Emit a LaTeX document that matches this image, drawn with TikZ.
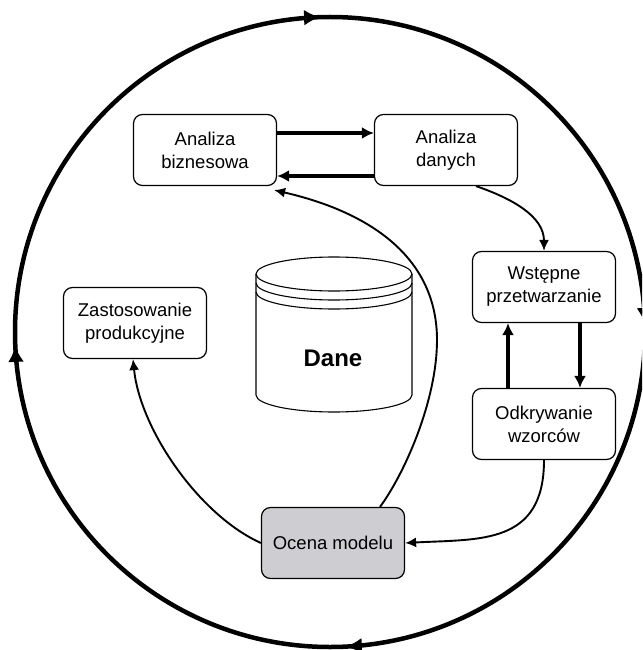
\documentclass[tikz,border=0pt]{standalone}
\usepackage{fontspec}
\setmainfont{Liberation Sans}
\usetikzlibrary{arrows.meta,decorations.markings}
\definecolor{ocenagray}{RGB}{205,205,210}
\tikzset{
  etap/.style={draw, line width=1.2pt, rounded corners=9pt, minimum width=143pt,
    minimum height=71pt, align=center, inner sep=2pt,
    font=\fontsize{18.5}{23}\selectfont},
  gruba/.style={line width=3.2pt, -{Latex[length=12pt,width=12pt]}},
  cienka/.style={line width=1.9pt, -{Latex[length=11pt,width=10pt]}},
  cyklgrot/.style={decoration={markings,
    mark=at position 0.004 with {\arrowreversed{Latex[length=16pt,width=16pt]}},
    mark=at position 0.255 with {\arrowreversed{Latex[length=16pt,width=16pt]}},
    mark=at position 0.507 with {\arrowreversed{Latex[length=16pt,width=16pt]}},
    mark=at position 0.758 with {\arrowreversed{Latex[length=16pt,width=16pt]}}},
    postaction={decorate}},
}
\begin{document}
\begin{tikzpicture}[x=1pt,y=-1pt]
\useasboundingbox (0,0) rectangle (642,650);
\clip (0,0) rectangle (642,650);
% cykl
\draw [line width=4.5pt, cyklgrot] (330,332) circle [radius=315pt];
% baza danych
\draw [line width=1.1pt] (256,274) -- (256,395)
  arc [start angle=180, end angle=360, x radius=78pt, y radius=17pt] -- (412,274);
\draw [line width=1.1pt] (334,274) ellipse [x radius=78pt, y radius=17pt];
\draw [line width=1.1pt] (256,283) arc [start angle=180, end angle=360, x radius=78pt, y radius=17pt];
\draw [line width=1.1pt] (256,292) arc [start angle=180, end angle=360, x radius=78pt, y radius=17pt];
\node (dane) at (333,358) {\fontsize{24}{24}\selectfont\bfseries Dane};
% etapy
\node [etap] (ab) at (205,150) {Analiza\\biznesowa};
\node [etap] (ad) at (446,150) {Analiza\\danych};
\node [etap] (wp) at (544,287) {Wstępne\\przetwarzanie};
\node [etap] (ow) at (544,424) {Odkrywanie\\wzorców};
\node [etap, fill=ocenagray] (om) at (333,543) {Ocena modelu};
\node [etap] (zp) at (135,323) {Zastosowanie\\produkcyjne};
\coordinate (bend) at (437,340);
% przejscia
\draw [gruba] ([yshift=17pt]ab.east) -- ([yshift=17pt]ad.west);
\draw [gruba] ([yshift=-26pt]ad.west) -- ([yshift=-26pt]ab.east);
\draw [gruba] ([xshift=36pt]wp.south) -- ([xshift=36pt]ow.north);
\draw [gruba] ([xshift=-36pt]ow.north) -- ([xshift=-36pt]wp.south);
\draw [cienka] ([xshift=30pt]ad.south) .. controls +(35,12) and +(0,-35) .. (wp.north);
\draw [cienka] (ow.south) .. controls +(0,85) and +(75,-4) .. (om.east);
\draw [cienka] ([xshift=47pt]om.north) .. controls +(25,-34) and +(0,60) .. (bend)
  .. controls +(0,-80) and +(100,23) .. ([xshift=-3pt,yshift=-4pt]ab.south east);
\draw [cienka] (om.west) .. controls +(-62,-28) and +(7,70) .. ([xshift=-2pt]zp.south);
\end{tikzpicture}
\end{document}
